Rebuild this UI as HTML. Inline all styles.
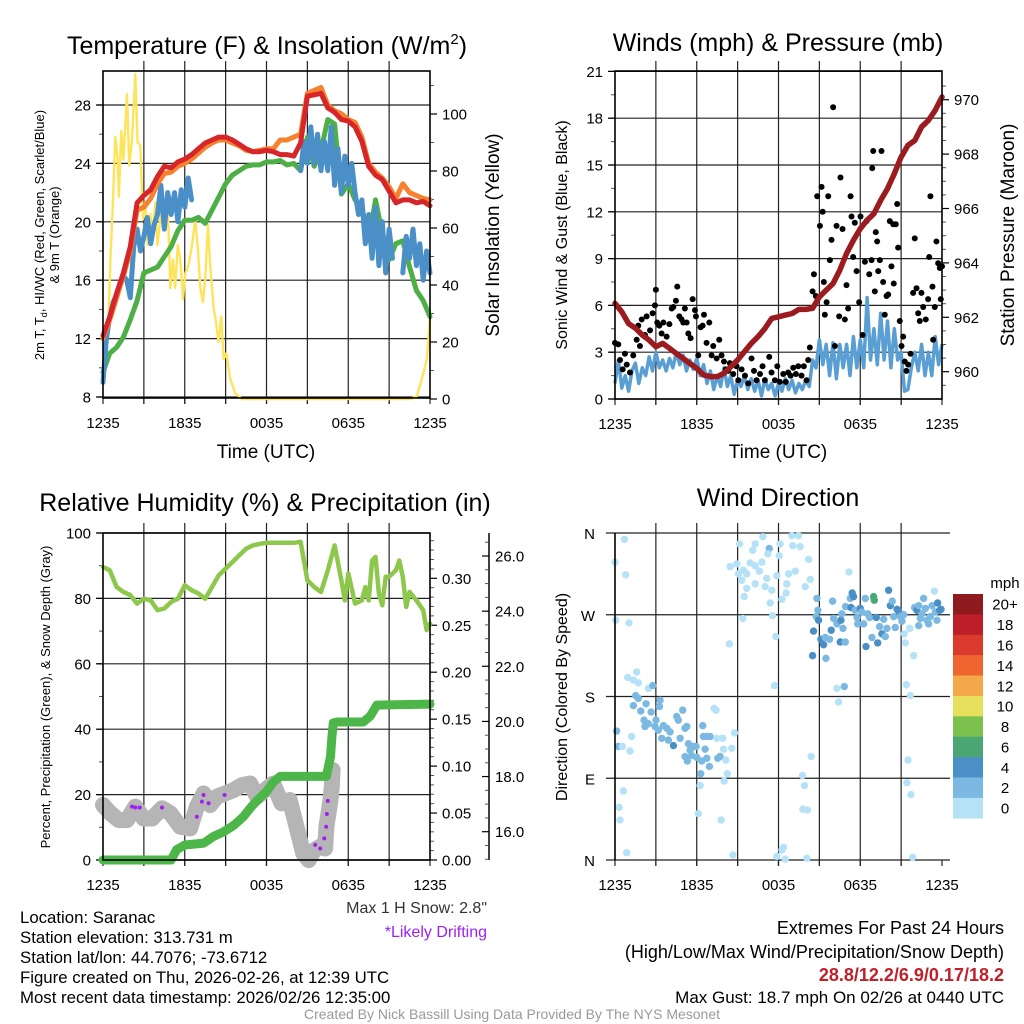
<!DOCTYPE html>
<html><head><meta charset="utf-8"><style>
body{margin:0;background:#fff}
svg{display:block;font-family:"Liberation Sans",sans-serif}
</style></head><body>
<svg id="s" width="1024" height="1024" viewBox="0 0 1024 1024">
<rect width="1024" height="1024" fill="#fff"/>
<text x="267" y="54" font-size="25" text-anchor="middle">Temperature (F) &amp; Insolation (W/m<tspan font-size="15" dy="-10">2</tspan><tspan dy="10">)</tspan></text>
<text x="778" y="51" font-size="25" text-anchor="middle">Winds (mph) &amp; Pressure (mb)</text>
<text x="265" y="511" font-size="25" text-anchor="middle">Relative Humidity (%) &amp; Precipitation (in)</text>
<text x="778" y="506" font-size="25" text-anchor="middle">Wind Direction</text>
<text x="266" y="458" font-size="19" text-anchor="middle">Time (UTC)</text>
<text x="778" y="458" font-size="19" text-anchor="middle">Time (UTC)</text>
<text transform="translate(44,235) rotate(-90)" font-size="13" text-anchor="middle">2m T, T<tspan font-size="9" dy="3">d</tspan><tspan dy="-3">, HI/WC (Red, Green, Scarlet/Blue)</tspan></text>
<text transform="translate(59,235) rotate(-90)" font-size="13" text-anchor="middle">&amp; 9m T (Orange)</text>
<text transform="translate(499,235) rotate(-90)" font-size="19" text-anchor="middle">Solar Insolation (Yellow)</text>
<text transform="translate(567,235) rotate(-90)" font-size="16" text-anchor="middle">Sonic Wind &amp; Gust (Blue, Black)</text>
<text transform="translate(1014,235) rotate(-90)" font-size="19" text-anchor="middle">Station Pressure (Maroon)</text>
<text transform="translate(50,697) rotate(-90)" font-size="13" text-anchor="middle">Percent, Precipitation (Green), &amp; Snow Depth (Gray)</text>
<text transform="translate(567,697) rotate(-90)" font-size="16" text-anchor="middle">Direction (Colored By Speed)</text>
<text x="487" y="913" font-size="16" fill="#333" text-anchor="end">Max 1 H Snow: 2.8"</text>
<text x="487" y="937" font-size="16" fill="#a020f0" text-anchor="end">*Likely Drifting</text>
<g font-size="16.8">
<text x="20" y="923">Location: Saranac</text>
<text x="20" y="943">Station elevation: 313.731 m</text>
<text x="20" y="963">Station lat/lon: 44.7076; -73.6712</text>
<text x="20" y="983">Figure created on Thu, 2026-02-26, at 12:39 UTC</text>
<text x="20" y="1003">Most recent data timestamp: 2026/02/26 12:35:00</text>
</g>
<g text-anchor="end">
<text x="1004" y="934" font-size="18">Extremes For Past 24 Hours</text>
<text x="1004" y="958" font-size="18">(High/Low/Max Wind/Precipitation/Snow Depth)</text>
<text x="1004" y="981" font-size="18" fill="#c0202a" font-weight="bold">28.8/12.2/6.9/0.17/18.2</text>
<text x="1004" y="1003" font-size="17">Max Gust: 18.7 mph On 02/26 at 0440 UTC</text>
</g>
<text x="512" y="1019" font-size="14" fill="#999" text-anchor="middle">Created By Nick Bassill Using Data Provided By The NYS Mesonet</text>
<g id="g"></g>
</svg>
<script>
const tempRed=[12.2,13.5,15.1,16.5,18.3,21.3,21.8,22.2,23.1,23.8,23.7,24.1,24.3,24.6,25.0,25.4,25.6,25.8,25.8,25.6,25.3,25.0,24.8,24.8,24.9,24.8,24.6,24.6,24.5,25.4,28.6,28.7,28.8,27.8,27.5,27.0,26.9,26.5,25.5,23.8,23.2,22.9,22.1,21.3,21.5,21.5,21.3,21.4,21.1];
const tempOrange=[12.0,13.3,14.8,16.3,18.0,20.8,21.0,21.6,22.6,23.3,23.4,23.8,24.0,24.3,24.7,25.1,25.4,25.6,25.6,25.4,25.2,24.9,24.8,24.9,25.0,25.0,25.6,25.6,25.8,26.0,28.8,29.0,29.2,28.0,27.6,27.4,27.0,26.8,25.8,24.0,23.4,23.0,22.4,21.6,22.6,22.0,21.8,21.6,21.5];
const tempGreen=[9.7,11.0,11.4,12.1,13.3,14.6,16.5,16.7,16.9,17.6,18.3,19.4,20.1,20.1,20.3,19.9,20.8,21.7,22.6,23.2,23.5,23.8,23.9,23.9,24.1,24.1,24.2,23.9,24.0,23.5,25.8,23.8,24.9,27.0,26.7,21.9,22.6,21.5,21.0,18.7,21.5,19.2,17.4,18.5,18.7,16.9,15.3,14.6,13.5];
const hiwcTimes=[0,0.25,0.5,0.75,1,1.25,1.5,1.75,2,2.25,2.5,2.75,3,3.25,3.5,3.75,4,4.25,4.5,4.75,5,5.25,5.5,5.75,6,6.25,6.5,null,14.5,14.75,15,15.25,15.5,15.75,16,16.25,16.5,16.75,17,17.25,17.5,17.75,18,18.25,18.5,18.75,19,19.25,19.5,19.75,20,20.25,20.5,20.75,21,21.25,null,22,22.25,22.5,22.75,23,23.25,23.5,23.75,24];
const hiwcVals=[9.0,12.0,13.5,14.5,15.0,15.8,16.3,16.0,14.8,18.3,19.5,18.0,19.0,20.3,18.5,19.8,20.5,22.5,19.5,22.0,20.5,22.0,20.0,22.2,21.0,23.0,21.5,null,23.5,25.5,24.0,26.5,24.0,26.0,23.5,25.5,23.5,26.5,22.5,25.0,22.0,24.5,22.5,24.0,22.0,20.5,21.5,18.5,20.5,17.5,21.0,17.0,20.0,16.5,19.5,17.5,null,16.5,19.0,17.5,19.5,17.0,18.5,16.0,18.0,16.5];
const solarTimes=[0,0.17,0.4,0.54,0.73,0.9,1.08,1.17,1.34,1.5,1.76,1.93,2.13,2.37,2.54,2.74,2.93,3.1,3.28,3.47,3.64,3.84,4.0,4.2,4.4,4.57,4.74,4.94,5.13,5.3,5.48,5.67,5.87,6.04,6.28,6.53,6.77,6.94,7.14,7.33,7.5,7.7,7.87,8.12,8.29,8.48,8.68,8.85,9.05,9.34,9.7,10.2,22.6,23.03,23.4,23.77,24];
const solarVals=[10,14,28,49,69,92,84,71,94,84,107,82,91,114,90,89,63,69,54,65,58,69,54,63,69,61,70,39,49,39,54,49,35,44,47,54,63,54,39,34,42,61,47,32,27,20,29,14,16,7,2,0,0,1,7,14,29];
const tempTicks=[8,12,16,20,24,28];
const solarTicks=[0,20,40,60,80,100];
const timeLabels=["1235","1835","0035","0635","1235"];
const sonicWind=[1.0,2.5,0.7,1.5,0.5,1.8,2.3,1.0,2.0,1.5,2.7,1.8,3.0,2.0,2.5,1.8,2.6,2.0,3.0,2.2,2.8,1.8,2.5,1.9,2.6,1.5,2.2,1.0,1.8,0.6,1.5,0.8,2.0,0.8,1.5,0.3,1.2,0.8,1.5,0.6,1.3,0.5,1.2,0.2,1.3,0.6,1.0,0.2,1.0,0.5,1.3,0.6,1.2,0.4,1.0,0.6,1.2,0.8,2.5,2.0,3.8,2.2,3.5,1.5,3.6,1.3,3.5,2.0,3.5,1.5,4.0,2.0,3.8,2.0,6.5,2.5,4.5,2.2,5.5,2.5,5.0,2.0,4.5,2.5,3.0,0.5,0.6,2.0,3.0,1.8,3.5,1.5,3.0,1.5,4.0,2.2,3.5];
const gustTimes=[0,0.24,0.37,0.56,0.73,0.86,1.1,1.34,1.59,1.71,1.83,1.96,2.2,2.32,2.57,2.76,2.93,3.0,3.1,3.25,3.42,3.55,3.79,3.99,4.16,4.28,4.47,4.57,4.72,4.89,5.01,5.13,5.26,5.38,5.55,5.7,5.87,5.94,6.11,6.28,6.43,6.53,6.72,6.92,7.09,7.21,7.46,7.65,7.82,8.0,8.14,8.31,8.43,8.68,8.92,9.05,9.29,9.54,9.78,10.02,10.2,10.39,10.64,10.83,11.0,11.32,11.49,11.74,11.91,12.1,12.35,12.54,12.71,12.89,13.08,13.28,13.45,13.69,13.86,14.06,14.18,14.3,14.5,14.6,14.74,14.84,15.04,15.16,15.24,15.33,15.4,15.53,15.65,15.77,15.89,16.01,16.14,16.26,16.45,16.55,16.7,16.87,16.99,17.11,17.29,17.36,17.48,17.6,17.73,17.92,18.02,18.17,18.34,18.46,18.66,18.83,18.88,18.95,19.07,19.14,19.24,19.32,19.44,19.56,19.68,19.8,19.93,20.05,20.17,20.29,20.42,20.46,20.61,20.71,20.78,20.9,21.03,21.15,21.27,21.39,21.52,21.69,21.88,22.0,22.13,22.25,22.37,22.49,22.62,22.81,22.98,23.06,23.15,23.3,23.35,23.47,23.59,23.72,23.84,23.91,24.0];
const gustVals=[3.6,3.5,2.5,1.9,2.9,2.2,1.7,2.8,3.8,4.7,3.4,5.1,4.1,5.3,4.4,5.5,6.0,7.0,4.9,4.7,4.2,4.9,4.0,4.8,5.8,5.9,6.3,7.2,5.3,5.1,4.9,5.8,4.9,4.2,3.9,6.4,5.7,5.3,2.8,4.6,4.7,5.4,3.6,4.9,2.8,3.4,2.6,3.8,2.8,2.4,1.9,1.8,2.3,1.6,2.1,1.2,1.9,1.5,1.0,2.6,1.8,1.2,1.6,2.1,1.2,2.7,1.7,1.2,2.1,1.1,1.6,1.1,1.7,1.5,2.0,1.6,2.1,1.5,2.1,1.2,2.5,3.3,6.9,8.0,6.6,13.0,11.1,13.6,12.0,7.5,5.4,6.2,13.0,8.9,10.2,18.7,3.4,11.1,5.3,14.2,10.9,5.1,7.3,5.8,13.0,11.7,9.1,11.3,8.2,6.2,11.7,4.1,8.8,11.4,8.0,8.9,14.8,15.9,6.9,10.7,10.1,8.2,8.9,15.9,7.5,5.4,6.6,6.7,11.4,8.5,11.2,7.4,11.2,12.5,9.7,5.0,3.4,4.0,2.4,1.8,2.2,2.9,6.8,10.3,7.1,5.5,5.0,6.8,5.9,5.1,6.4,9.1,13.0,7.2,3.8,5.9,10.1,8.7,8.4,6.4,8.5];
const pressure=[962.51,962.2,961.77,961.6,961.35,961.16,960.92,961.04,960.86,960.67,960.49,960.3,960.12,959.88,959.82,959.82,959.94,960.18,960.43,960.73,961.04,961.29,961.59,961.96,962.02,962.08,962.14,962.29,962.29,962.33,962.75,963.0,963.24,963.73,964.35,964.83,965.26,965.57,965.81,966.3,966.73,967.28,967.89,968.32,968.5,969.0,969.24,969.61,970.1];
const windTicks=[0,3,6,9,12,15,18,21];
const pressureTicks=[960,962,964,966,968,970];
const rhTimes=[0,0.5,1,1.5,2,2.5,3,3.5,4,4.5,5,5.5,6,6.5,7,7.5,8,8.5,9,9.5,10,10.5,11,11.5,12,12.5,13,13.5,14,14.5,15,15.5,16,16.5,17,17.5,17.75,18,18.5,19,19.25,19.5,19.75,20,20.25,20.5,20.75,21,21.5,21.75,22,22.25,22.5,23,23.5,23.75,24];
const rhVals=[89.6,88.6,83.5,82.0,81.0,78.4,79.9,79.4,76.4,76.9,78.9,79.9,84.0,82.5,81.5,79.9,83.5,87.1,89.1,91.1,93.2,95.2,96.2,96.7,97.0,97.0,97.0,97.0,97.0,97.3,85.5,83.5,82.0,88.6,96.2,85.5,79.4,87.6,78.4,79.4,83.5,79.4,91.6,92.7,81.5,77.9,86.6,86.6,88.6,91.6,86.6,77.4,82.0,79.4,76.4,70.3,72.3];
const precipTimes=[0,5.0,5.4,6.0,7.4,8.1,8.85,9.6,10.3,10.9,11.5,12.0,12.5,13.0,16.4,16.7,16.8,16.9,17.2,19.1,19.6,20.1,24];
const precipVals=[0,0,0.011,0.016,0.018,0.025,0.030,0.037,0.046,0.057,0.066,0.073,0.083,0.089,0.089,0.11,0.131,0.146,0.147,0.147,0.153,0.165,0.166];
const snowTimes=[0,0.54,1.15,1.76,2.37,2.98,3.6,4.33,4.94,5.67,6.4,6.89,7.38,7.87,8.36,8.97,9.58,10.2,10.8,11.3,11.9,12.5,13.1,13.7,14.2,14.7,15.1,15.5,15.9,16.3,16.4,16.55,16.7,16.8,16.85];
const snowVals=[16.97,16.67,16.42,16.42,16.91,16.48,16.48,16.85,16.67,16.18,16.12,16.91,17.39,16.97,17.27,17.39,17.51,17.69,17.75,17.27,17.51,17.75,17.03,17.15,16.18,15.21,14.97,15.33,15.45,15.39,16.18,16.67,17.15,17.69,18.24];
const driftTimes=[2.13,2.37,2.69,4.33,6.89,7.26,7.38,7.75,8.92,15.57,15.94,16.24,16.38,16.43,16.5];
const driftVals=[16.91,16.88,16.88,16.88,16.54,17.09,17.33,17.03,17.33,15.52,15.39,15.76,16.18,16.64,17.12];
const rhTicks=[0,20,40,60,80,100];
const precipTicks=["0.00","0.05","0.10","0.15","0.20","0.25","0.30"];
const snowTicks=["16.0","18.0","20.0","22.0","24.0","26.0"];
const dirTimes=[0,0.69,0.78,0.05,1.03,0.12,0.24,0.54,1.22,1.1,0.61,0.3,0.37,0.86,0.93,1.59,1.71,1.35,2.45,2.77,1.52,1.71,1.35,1.89,2.28,2.65,2.13,2.45,3.01,3.31,3.26,2.2,2.94,3.18,3.55,3.8,4.04,3.43,3.92,4.29,4.53,4.65,4.97,4.78,5.14,5.27,5.39,5.14,5.51,5.76,5.95,5.31,5.63,6.0,6.37,6.44,6.49,6.74,6.98,6.61,6.74,6.93,7.54,7.71,7.47,7.91,7.27,7.42,7.96,8.13,8.25,8.01,8.57,8.77,6.29,6.25,6.12,7.79,8.65,
9.14,10.29,10.11,10.85,11.32,11.22,12.12,12.05,12.98,13.47,13.05,13.59,14.21,8.45,8.94,9.06,9.43,9.67,9.92,10.29,10.78,10.6,9.31,9.67,9.48,10.29,11.14,11.88,11.02,11.51,11.39,12.25,12.56,12.74,13.23,12.61,13.96,14.33,9.38,11.56,11.8,11.71,8.4,17.17,
14.82,14.89,14.77,14.94,14.57,15.11,15.31,15.43,15.75,16.04,15.97,15.87,16.29,16.58,16.65,16.53,16.73,16.9,16.92,17.27,17.41,17.51,17.32,17.63,17.76,17.81,18.0,18.12,18.25,18.37,18.42,18.56,18.69,18.86,18.98,19.03,19.18,19.28,19.42,19.59,19.72,19.84,19.96,20.08,20.21,20.35,20.45,20.57,20.7,20.82,20.94,21.06,21.19,21.23,21.31,21.63,21.92,14.5,15.48,16.83,16.29,16.41,21.38,21.67,21.5,21.43,21.72,21.85,21.99,22.16,22.29,22.41,22.53,22.65,22.78,22.9,23.02,23.14,23.27,23.44,23.51,23.63,23.68,23.83,23.93,22.29,
14.4,13.76,13.91,13.79,14.13,14.08,12.37,12.25,11.88,12.49];
const dirDegs=[328,353,314,264,261,142,125,125,136,120,76,58,44,8,201,207,195,198,189,192,181,178,170,164,172,163,154,150,154,176,169,147,147,143,148,145,141,134,132,126,158,154,165,134,145,147,128,114,121,125,125,109,115,113,109,148,136,136,136,122,112,103,112,114,134,134,167,165,122,110,95,87,123,140,95,82,51,44,5.5,
348,348,341,356,343,337,348,335,357,357,346,345,331,323,326,315,319,315,327,324,328,318,308,299,290,304,310,313,301,297,283,287,294,315,318,304,301,309,266,269,246,192,238,317,
288,275,268,264,252,243,237,245,243,266,285,253,260,264,271,240,255,240,279,288,294,290,278,275,267,260,277,273,260,288,235,271,267,245,290,286,267,239,257,249,265,246,255,297,280,285,268,256,276,274,268,263,270,249,239,255,225,225,222,191,189,174,193,181,110,85,72,3,278,275,280,266,271,288,277,264,260,268,280,296,273,264,283,275,276,258,
114,93,82,56,55,2,14,11,4,1];
const dirSpeeds=[1,1,1,1,1,3,3,1,1,1,1,1,1,1,1,1,1,1,1,3,3,3,3,3,3,3,3,3,3,3,3,3,3,3,3,3,3,3,3,5,3,3,3,3,3,3,3,3,3,3,3,3,3,3,3,3,3,3,3,3,3,3,3,3,1,1,1,1,1,1,1,1,1,1,3,1,1,1,1,
1,1,1,1,3,1,1,1,1,1,1,1,1,1,1,1,1,1,1,1,1,1,1,1,1,1,1,1,1,1,1,1,1,1,1,1,1,1,1,1,1,1,1,1,
3,3,3,5,5,5,5,3,3,3,3,5,3,5,3,5,3,3,3,3,5,5,5,3,3,3,5,3,3,3,5,3,3,3,7,7,5,5,3,5,3,3,3,5,5,3,3,3,5,5,3,3,3,1,1,1,1,5,3,3,1,1,1,1,1,1,1,1,3,5,3,3,3,3,3,3,3,3,3,1,3,3,5,5,5,3,
1,1,1,1,1,1,1,1,1,1];
const dirLabels=["N","E","S","W","N"];
const speedLabels=["20+","18","16","14","12","10","8","6","4","2","0"];
const speedColors=["#8e1a1d","#bd1f28","#dc3a2c","#ef6530","#f5a849","#e7e05c","#7cc14e","#4aa774","#4a8fc6","#7bb9e2","#b5e2f7"];

const NS="http://www.w3.org/2000/svg";
const G=document.getElementById('g');
function mk(tag,attrs,parent){const e=document.createElementNS(NS,tag);for(const k in attrs)e.setAttribute(k,attrs[k]);(parent||G).appendChild(e);return e;}
function pathD(ts,vs,xf,yf){let d="",pen=false;for(let i=0;i<ts.length;i++){if(ts[i]===null||vs[i]===null){pen=false;continue;}d+=(pen?"L":"M")+xf(ts[i]).toFixed(1)+","+yf(vs[i]).toFixed(1);pen=true;}return d;}
function even(n){const a=[];for(let i=0;i<n;i++)a.push(i*24/(n-1));return a;}

function frame(x0,x1,y0,y1,name){
  const g=mk('g',{});
  
  
  for(let i=1;i<8;i++){const x=x0+(x1-x0)*i/8;const l=mk('line',{x1:x,x2:x,y1:y0-10,y2:y1+6,stroke:'#222','stroke-width':1.2},g);}
  for(let i=0;i<=8;i++){const x=x0+(x1-x0)*i/8;mk('line',{x1:x,x2:x,y1:y1,y2:y1+6,stroke:'#222','stroke-width':1.2},g);}
  for(let i=0;i<timeLabels.length;i++){const t=mk('text',{x:x0+(x1-x0)*i/4,y:y1+30,'font-size':15,'text-anchor':'middle'},g);t.textContent=timeLabels[i];}
  return g;
}
function box(x0,x1,y0,y1){mk('rect',{x:x0,y:y0,width:x1-x0,height:y1-y0,fill:'none',stroke:'#000','stroke-width':1.6});}
function yAxis(g,x,side,ticks,labels,yf,minor,grid,x0,x1){
  const dir=side==='left'?-1:1;
  for(const m of minor){mk('line',{x1:x,x2:x+dir*4,y1:yf(m),y2:yf(m),stroke:'#555','stroke-width':1},g);}
  for(let i=0;i<ticks.length;i++){const y=yf(ticks[i]);
    if(grid)mk('line',{x1:x0-(side==='left'?6:0),x2:x1,y1:y,y2:y,stroke:'#222','stroke-width':1.2},g);
    mk('line',{x1:x,x2:x+dir*7,y1:y,y2:y,stroke:'#000','stroke-width':1.2},g);
    const t=mk('text',{x:x+dir*12,y:y+5.5,'font-size':15,'text-anchor':side==='left'?'end':'start'},g);t.textContent=labels[i];
    
    }
}

{const x0=103,x1=430,y0=71,y1=398;
 const X=t=>x0+(x1-x0)*t/24, YT=v=>397-(v-8)*14.6, YS=v=>399-v*2.85;
 const g=frame(x0,x1,y0,y1,'temperature');
 const mn=[];for(let v=10;v<30;v+=4)mn.push(v);
 yAxis(g,x0,'left',tempTicks,tempTicks.map(String),YT,mn,true,x0,x1);
 const mn2=[];for(let v=10;v<=110;v+=10)if(v%20)mn2.push(v);
 yAxis(g,x1,'right',solarTicks,solarTicks.map(String),YS,mn2,false);
 const s1=mk('path',{d:pathD(solarTimes,solarVals,X,YS),fill:'none',stroke:'#fde45a','stroke-width':2.4,'stroke-linejoin':'round'});
 
 const tm=even(tempRed.length);
 const s2=mk('path',{d:pathD(tm,tempGreen,X,YT),fill:'none',stroke:'#4daf46','stroke-width':5,'stroke-linejoin':'round','stroke-linecap':'round'});
 
 const s3=mk('path',{d:pathD(hiwcTimes,hiwcVals,X,YT),fill:'none',stroke:'#4a8fc8','stroke-width':5,'stroke-linejoin':'round','stroke-linecap':'round'});
 
 const s4=mk('path',{d:pathD(tm,tempOrange,X,YT),fill:'none',stroke:'#f6812f','stroke-width':5,'stroke-linejoin':'round','stroke-linecap':'round'});
 
 const s5=mk('path',{d:pathD(tm,tempRed,X,YT),fill:'none',stroke:'#d7262a','stroke-width':5,'stroke-linejoin':'round','stroke-linecap':'round'});
 
 box(x0,x1,y0,y1);}

{const x0=615,x1=942,y0=71,y1=399;
 const X=t=>x0+(x1-x0)*t/24, YW=v=>399-v*15.6, YP=p=>371.7-(p-960)*27.2;
 const g=frame(x0,x1,y0,y1,'winds');
 const mn=[];for(let v=1.5;v<21;v+=3)mn.push(v);
 yAxis(g,x0,'left',windTicks,windTicks.map(String),YW,mn,true,x0,x1);
 const mn2=[];for(let p=959.5;p<971;p+=0.5)if(Math.abs(p%2)>0.01)mn2.push(p);
 yAxis(g,x1,'right',pressureTicks,pressureTicks.map(String),YP,mn2,false);
 const sw=mk('path',{d:pathD(even(sonicWind.length),sonicWind,X,YW),fill:'none',stroke:'#5a9fd4','stroke-width':3.5,'stroke-linejoin':'round'});
 
 for(let i=0;i<gustTimes.length;i++){const c=mk('circle',{cx:X(gustTimes[i]),cy:YW(gustVals[i]),r:3,fill:'#000'});
  
  }
 const pl=mk('path',{d:pathD(even(pressure.length),pressure,X,YP),fill:'none',stroke:'#9b1b1f','stroke-width':5.5,'stroke-linejoin':'round','stroke-linecap':'round'});
 
 box(x0,x1,y0,y1);}

{const x0=103,x1=430,y0=533,y1=860;
 const X=t=>x0+(x1-x0)*t/24, YR=v=>860-v*3.27, YPr=v=>860-v*939, YSn=v=>831.7-(v-16)*27.57;
 const g=frame(x0,x1,y0,y1,'humidity');
 const mn=[];for(let v=10;v<100;v+=20)mn.push(v);
 yAxis(g,x0,'left',rhTicks,rhTicks.map(String),YR,mn,true,x0,x1);
 const mn2=[];for(let v=0.01;v<0.345;v+=0.01)if(Math.round(v*100)%5)mn2.push(v);
 yAxis(g,x1,'right',precipTicks.map(Number),precipTicks,YPr,mn2,false);
 const sx=489;mk('line',{x1:sx,x2:sx,y1:y0,y2:y1,stroke:'#000','stroke-width':1.5},g);
 const mn3=[];for(let v=15;v<=26.5;v+=0.5)if(v%2)mn3.push(v);
 for(const m of mn3)mk('line',{x1:sx,x2:sx-4,y1:YSn(m),y2:YSn(m),stroke:'#555'},g);
 for(const s of snowTicks){const y=YSn(Number(s));mk('line',{x1:sx,x2:sx-7,y1:y,y2:y,stroke:'#000','stroke-width':1.2},g);
  const t=mk('text',{x:sx+6,y:y+5.5,'font-size':15},g);t.textContent=s;}
 const sn=mk('path',{d:pathD(snowTimes,snowVals,X,YSn),fill:'none',stroke:'#b5b5b5','stroke-width':16,'stroke-linejoin':'round','stroke-linecap':'round'});
 
 for(let i=0;i<driftTimes.length;i++){const c=mk('circle',{cx:X(driftTimes[i]),cy:YSn(driftVals[i]),r:2,fill:'#a020f0'});
  
  }
 const pr=mk('path',{d:pathD(precipTimes,precipVals,X,YPr),fill:'none',stroke:'#4cb748','stroke-width':9,'stroke-linejoin':'round','stroke-linecap':'round'});
 
 const rh=mk('path',{d:pathD(rhTimes,rhVals,X,YR),fill:'none',stroke:'#8dc84c','stroke-width':4.5,'stroke-linejoin':'round','stroke-linecap':'round'});
 
 box(x0,x1,y0,y1);}

{const x0=615,x1=942,y0=533,y1=860;
 const X=t=>x0+(x1-x0)*t/24, YD=d=>860-d*0.9083;
 const g=frame(x0,x1,y0,y1,'wind-direction');
 for(let i=0;i<dirLabels.length;i++){const y=YD(i*90);
  mk('line',{x1:x0-9,x2:x1+8,y1:y,y2:y,stroke:'#222','stroke-width':1.2},g);
  const t=mk('text',{x:x0-20,y:y+6,'font-size':15,'text-anchor':'end'},g);t.textContent=dirLabels[i];
  }
 function col(s){const idx=Math.min(10,Math.floor(s/2));return speedColors[10-idx];}
 for(let i=0;i<dirTimes.length;i++){const c=mk('circle',{cx:X(dirTimes[i]),cy:YD(dirDegs[i]),r:3.7,fill:col(dirSpeeds[i])});
  
  }
 mk('line',{x1:x0,x2:x0,y1:y0,y2:y1,stroke:'#000','stroke-width':1.6});
 const cb=mk('g',{});
 const ct=mk('text',{x:1005,y:588,'font-size':15,'text-anchor':'middle'},cb);ct.textContent='mph';
 const bh=224.3/11;
 for(let i=0;i<speedLabels.length;i++){const y=594+i*bh;
  const r=mk('rect',{x:953,y:y,width:30,height:bh+0.3,fill:speedColors[i]},cb);
  const t=mk('text',{x:1005,y:y+bh/2+5.5,'font-size':15,'text-anchor':'middle'},cb);t.textContent=speedLabels[i];
  }
}
</script>
</body></html>
